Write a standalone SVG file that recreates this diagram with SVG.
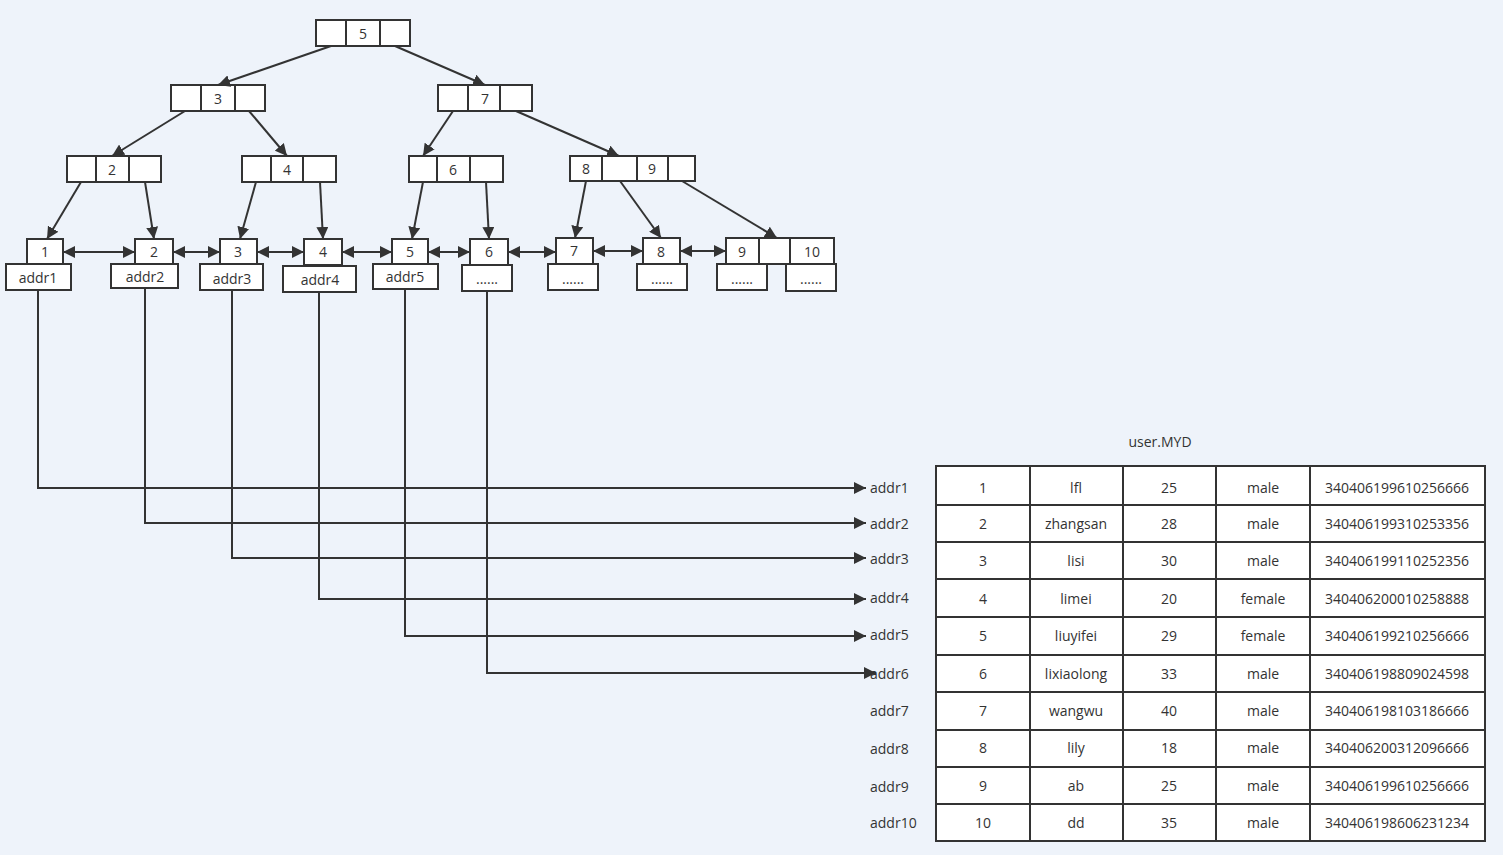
<svg xmlns="http://www.w3.org/2000/svg" width="1503" height="855" viewBox="0 0 1503 855">
<defs>
<marker id="a" viewBox="0 0 10 10" refX="10" refY="5" markerWidth="6" markerHeight="6" orient="auto-start-reverse"><path d="M0,0L10,5L0,10z" fill="#333"/></marker>
<style>
rect{fill:#fff;stroke:#333;stroke-width:2}
text{font-family:"Open Sans","Liberation Sans",sans-serif;font-size:14px;fill:#333;text-anchor:middle}
.c line,.c path{stroke:#333;stroke-width:2;fill:none}
.l{text-anchor:start}
</style>
</defs>
<rect x="0" y="0" width="1503" height="855" style="fill:#eef3fa;stroke:none"/>
<g id="root"><rect x="316" y="20" width="30" height="26"/><rect x="346" y="20" width="34" height="26"/><rect x="380" y="20" width="30" height="26"/><text x="363" y="39">5</text></g>
<g id="n3"><rect x="171" y="85" width="30" height="26"/><rect x="201" y="85" width="34" height="26"/><rect x="235" y="85" width="30" height="26"/><text x="218" y="104">3</text></g>
<g id="n7"><rect x="438" y="85" width="30" height="26"/><rect x="468" y="85" width="32" height="26"/><rect x="500" y="85" width="32" height="26"/><text x="485" y="104">7</text></g>
<g id="n2"><rect x="67" y="156" width="29" height="26"/><rect x="96" y="156" width="33" height="26"/><rect x="129" y="156" width="32" height="26"/><text x="112" y="175">2</text></g>
<g id="n4"><rect x="242" y="156" width="29" height="26"/><rect x="271" y="156" width="32" height="26"/><rect x="303" y="156" width="33" height="26"/><text x="287" y="175">4</text></g>
<g id="n6"><rect x="409" y="156" width="28" height="26"/><rect x="437" y="156" width="33" height="26"/><rect x="470" y="156" width="33" height="26"/><text x="453" y="175">6</text></g>
<g id="n89"><rect x="570" y="156" width="32" height="25"/><rect x="602" y="156" width="35" height="25"/><rect x="637" y="156" width="31" height="25"/><rect x="668" y="156" width="27" height="25"/><text x="586" y="174">8</text><text x="652" y="174">9</text></g>
<g id="l1"><rect x="27" y="239" width="36" height="25"/><text x="45" y="257">1</text><rect x="6" y="264" width="65" height="26"/><text x="38" y="283">addr1</text></g>
<g id="l2"><rect x="135" y="239" width="38" height="25"/><text x="154" y="257">2</text><rect x="111" y="264" width="67" height="24"/><text x="145" y="282">addr2</text></g>
<g id="l3"><rect x="220" y="239" width="37" height="25"/><text x="238" y="257">3</text><rect x="200" y="264" width="63" height="26"/><text x="232" y="284">addr3</text></g>
<g id="l4"><rect x="304" y="239" width="38" height="26"/><text x="323" y="257">4</text><rect x="283" y="266" width="73" height="26"/><text x="320" y="285">addr4</text></g>
<g id="l5"><rect x="392" y="239" width="36" height="25"/><text x="410" y="257">5</text><rect x="373" y="264" width="65" height="25"/><text x="405" y="282">addr5</text></g>
<g id="l6"><rect x="470" y="239" width="38" height="26"/><text x="489" y="257">6</text><rect x="462" y="265" width="50" height="26"/><text x="487" y="284">......</text></g>
<g id="l7"><rect x="556" y="238" width="37" height="26"/><text x="574" y="256">7</text><rect x="548" y="264" width="50" height="26"/><text x="573" y="284">......</text></g>
<g id="l8"><rect x="643" y="238" width="37" height="26"/><text x="661" y="257">8</text><rect x="637" y="264" width="50" height="26"/><text x="662" y="284">......</text></g>
<g id="l9"><rect x="726" y="238" width="33" height="26"/><rect x="759" y="238" width="31" height="26"/><rect x="790" y="238" width="44" height="26"/><text x="742" y="257">9</text><text x="812" y="257">10</text><rect x="717" y="264" width="50" height="26"/><text x="742" y="284">......</text><rect x="786" y="264" width="50" height="27"/><text x="811" y="284">......</text></g>
<g class="c" id="connectors">
<line x1="331" y1="46" x2="218" y2="85" marker-end="url(#a)"/>
<line x1="395" y1="46" x2="485" y2="85" marker-end="url(#a)"/>
<line x1="185" y1="111" x2="112" y2="156" marker-end="url(#a)"/>
<line x1="249" y1="111" x2="287" y2="156" marker-end="url(#a)"/>
<line x1="453" y1="111" x2="423" y2="156" marker-end="url(#a)"/>
<line x1="516" y1="111" x2="619" y2="156" marker-end="url(#a)"/>
<line x1="81" y1="182" x2="47" y2="239" marker-end="url(#a)"/>
<line x1="145" y1="182" x2="154" y2="239" marker-end="url(#a)"/>
<line x1="256" y1="182" x2="240" y2="239" marker-end="url(#a)"/>
<line x1="320" y1="182" x2="323" y2="239" marker-end="url(#a)"/>
<line x1="423" y1="182" x2="412" y2="239" marker-end="url(#a)"/>
<line x1="486" y1="182" x2="489" y2="239" marker-end="url(#a)"/>
<line x1="586" y1="181" x2="575" y2="238" marker-end="url(#a)"/>
<line x1="620" y1="181" x2="661" y2="238" marker-end="url(#a)"/>
<line x1="682" y1="181" x2="777" y2="238" marker-end="url(#a)"/>
<line x1="63" y1="252" x2="135" y2="252" marker-start="url(#a)" marker-end="url(#a)"/>
<line x1="173" y1="252" x2="220" y2="252" marker-start="url(#a)" marker-end="url(#a)"/>
<line x1="257" y1="252" x2="304" y2="252" marker-start="url(#a)" marker-end="url(#a)"/>
<line x1="342" y1="252" x2="392" y2="252" marker-start="url(#a)" marker-end="url(#a)"/>
<line x1="428" y1="252" x2="470" y2="252" marker-start="url(#a)" marker-end="url(#a)"/>
<line x1="508" y1="252" x2="556" y2="252" marker-start="url(#a)" marker-end="url(#a)"/>
<line x1="593" y1="251" x2="643" y2="251" marker-start="url(#a)" marker-end="url(#a)"/>
<line x1="680" y1="251" x2="726" y2="251" marker-start="url(#a)" marker-end="url(#a)"/>
<path d="M38,290V488H866" marker-end="url(#a)"/>
<path d="M145,288V523H866" marker-end="url(#a)"/>
<path d="M232,290V558H866" marker-end="url(#a)"/>
<path d="M319,292V599H866" marker-end="url(#a)"/>
<path d="M405,289V636H866" marker-end="url(#a)"/>
<path d="M487,291V673H876" marker-end="url(#a)"/>
</g>
<g id="labels">
<text x="870" y="493" class="l">addr1</text><text x="870" y="529" class="l">addr2</text><text x="870" y="564" class="l">addr3</text><text x="870" y="603" class="l">addr4</text><text x="870" y="640" class="l">addr5</text><text x="870" y="679" class="l">addr6</text><text x="870" y="716" class="l">addr7</text><text x="870" y="754" class="l">addr8</text><text x="870" y="792" class="l">addr9</text><text x="870" y="828" class="l">addr10</text>
</g>
<g id="table">
<text x="1160" y="447">user.MYD</text>
<rect x="936" y="466" width="549" height="375"/>
<g style="stroke:#333;stroke-width:2">
<line x1="1030" y1="466" x2="1030" y2="841"/><line x1="1123" y1="466" x2="1123" y2="841"/><line x1="1216" y1="466" x2="1216" y2="841"/><line x1="1310" y1="466" x2="1310" y2="841"/>
<line x1="936" y1="505" x2="1485" y2="505"/><line x1="936" y1="542" x2="1485" y2="542"/><line x1="936" y1="579" x2="1485" y2="579"/><line x1="936" y1="617" x2="1485" y2="617"/><line x1="936" y1="655" x2="1485" y2="655"/><line x1="936" y1="692" x2="1485" y2="692"/><line x1="936" y1="730" x2="1485" y2="730"/><line x1="936" y1="767" x2="1485" y2="767"/><line x1="936" y1="804" x2="1485" y2="804"/>
</g>
<g>
<text x="983" y="493">1</text><text x="1076" y="493">lfl</text><text x="1169" y="493">25</text><text x="1263" y="493">male</text><text x="1397" y="493">340406199610256666</text>
<text x="983" y="529">2</text><text x="1076" y="529">zhangsan</text><text x="1169" y="529">28</text><text x="1263" y="529">male</text><text x="1397" y="529">340406199310253356</text>
<text x="983" y="566">3</text><text x="1076" y="566">lisi</text><text x="1169" y="566">30</text><text x="1263" y="566">male</text><text x="1397" y="566">340406199110252356</text>
<text x="983" y="604">4</text><text x="1076" y="604">limei</text><text x="1169" y="604">20</text><text x="1263" y="604">female</text><text x="1397" y="604">340406200010258888</text>
<text x="983" y="641">5</text><text x="1076" y="641">liuyifei</text><text x="1169" y="641">29</text><text x="1263" y="641">female</text><text x="1397" y="641">340406199210256666</text>
<text x="983" y="679">6</text><text x="1076" y="679">lixiaolong</text><text x="1169" y="679">33</text><text x="1263" y="679">male</text><text x="1397" y="679">340406198809024598</text>
<text x="983" y="716">7</text><text x="1076" y="716">wangwu</text><text x="1169" y="716">40</text><text x="1263" y="716">male</text><text x="1397" y="716">340406198103186666</text>
<text x="983" y="753">8</text><text x="1076" y="753">lily</text><text x="1169" y="753">18</text><text x="1263" y="753">male</text><text x="1397" y="753">340406200312096666</text>
<text x="983" y="791">9</text><text x="1076" y="791">ab</text><text x="1169" y="791">25</text><text x="1263" y="791">male</text><text x="1397" y="791">340406199610256666</text>
<text x="983" y="828">10</text><text x="1076" y="828">dd</text><text x="1169" y="828">35</text><text x="1263" y="828">male</text><text x="1397" y="828">340406198606231234</text>
</g>
</g>
</svg>
